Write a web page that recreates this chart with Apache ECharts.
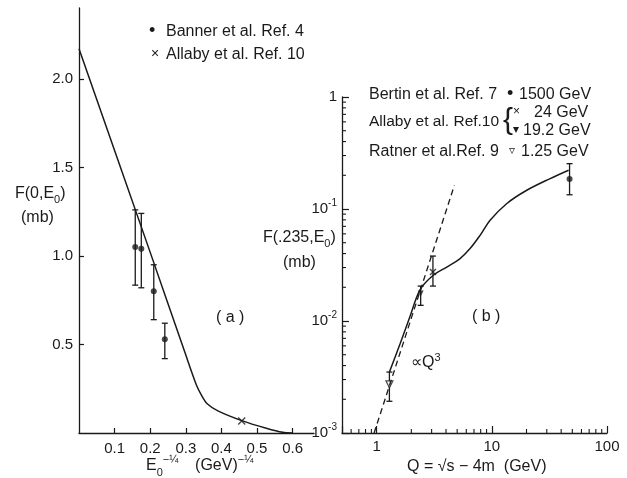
<!DOCTYPE html>
<html><head><meta charset="utf-8">
<script src="https://cdn.jsdelivr.net/npm/echarts@6/dist/echarts.min.js"></script>
<style>html,body{margin:0;padding:0;background:#fff}#c{width:627px;height:478px}</style>
</head><body><div id="c"></div>
<script>
// ---------- Panel (a) ----------
const aCurveX = [0, 0.2, 0.3, 0.33, 0.345, 0.36, 0.39, 0.457, 0.526, 0.572, 0.6];
const aCurveY = [2.17, 1.02, 0.44, 0.27, 0.21, 0.165, 0.125, 0.07, 0.027, 0.004, 0];
const bannerX  = [0.158, 0.175, 0.21, 0.241];
const bannerY  = [1.05, 1.04, 0.80, 0.53];
const bannerLo = [0.835, 0.82, 0.64, 0.42];
const bannerHi = [1.26, 1.24, 0.95, 0.62];
const allabyAX = [0.457];
const allabyAY = [0.068];
const aXTicks = [0.1, 0.2, 0.3, 0.4, 0.5, 0.6];
const aYTicks = [0.5, 1.0, 1.5, 2.0];

// ---------- Panel (b) ----------
const bCurveQ = [1.29, 1.6, 1.95, 2.38, 3.10, 4.06, 5.30, 6.47, 7.91, 9.66, 13.5, 20.1, 32.1, 46.4];
const bCurveF = [0.0035, 0.0063, 0.0110, 0.019, 0.0256, 0.0303, 0.0361, 0.0443, 0.0582, 0.0792, 0.112, 0.147, 0.187, 0.222];
const q3Q = [0.95, 4.73];
const q3F = [0.001, 0.163];
const ratnerQ = [1.29],  ratnerF = [0.00272], ratnerLo = [0.00192], ratnerHi = [0.0035];
const allaby19Q = [2.41], allaby19F = [0.0176], allaby19Lo = [0.0138], allaby19Hi = [0.0205];
const allaby24Q = [3.08], allaby24F = [0.0274], allaby24Lo = [0.0205], allaby24Hi = [0.038];
const bertinQ = [47.3], bertinF = [0.185], bertinLo = [0.134], bertinHi = [0.254];
const bXMinor = [0.6,0.7,0.8,0.9,2,3,4,5,6,7,8,9,20,30,40,50,60,70,80,90];
const bYMinor = [0.002,0.003,0.004,0.005,0.006,0.007,0.008,0.009,0.02,0.03,0.04,0.05,0.06,0.07,0.08,0.09,0.2,0.3,0.4,0.5,0.6,0.7,0.8,0.9];

const INK = '#1a1a1a';
const FONT = 'Liberation Sans';
const zip = (a, b) => a.map((v, i) => [v, b[i]]);
const zip3 = (a, b, c) => a.map((v, i) => [v, b[i], c[i]]);

function errRender(params, api) {
  const x = api.value(0), lo = api.value(1), hi = api.value(2);
  const p1 = api.coord([x, lo]), p2 = api.coord([x, hi]);
  const w = 3, st = {stroke: INK, lineWidth: 1.3};
  return {type: 'group', children: [
    {type: 'line', shape: {x1: p1[0], y1: p1[1], x2: p2[0], y2: p2[1]}, style: st},
    {type: 'line', shape: {x1: p1[0]-w, y1: p1[1], x2: p1[0]+w, y2: p1[1]}, style: st},
    {type: 'line', shape: {x1: p2[0]-w, y1: p2[1], x2: p2[0]+w, y2: p2[1]}, style: st}
  ]};
}
function xMinorRender(params, api) {
  const p = api.coord([api.value(0), api.value(1)]);
  return {type: 'line', z2: 50, shape: {x1: p[0], y1: p[1], x2: p[0], y2: p[1]-4}, style: {stroke: INK, lineWidth: 1.1}};
}
function yMinorRender(params, api) {
  const p = api.coord([api.value(0), api.value(1)]);
  return {type: 'line', z2: 50, shape: {x1: p[0], y1: p[1], x2: p[0]+4, y2: p[1]}, style: {stroke: INK, lineWidth: 1.1}};
}
const crossPath = 'path://M0,0L10,10M10,0L0,10';
const supRich = {
  n: {fontSize: 15, fontFamily: FONT, color: INK, lineHeight: 22},
  s: {fontSize: 10, fontFamily: FONT, color: INK, lineHeight: 12, verticalAlign: 'top'}
};
const yLogLabels = {1: '{n|1}', 0.1: '{n|10}{s|-1}', 0.01: '{n|10}{s|-2}', 0.001: '{n|10}{s|-3}'};

const axLine = {show: true, lineStyle: {color: INK, width: 1.3}};
const labelBase = {fontSize: 15, fontFamily: FONT, color: INK};

const option = {
  backgroundColor: '#fff',
  animation: false,
  grid: [
    {left: 79, top: 8, width: 235, height: 425},
    {left: 342, top: 97, width: 265, height: 336}
  ],
  xAxis: [
    {gridIndex: 0, type: 'value', min: 0, max: 0.66, interval: 0.1, position: 'bottom',
     axisLine: axLine, splitLine: {show: false},
     axisTick: {inside: true, length: 5, customValues: aXTicks, lineStyle: {color: INK, width: 1.2}},
     axisLabel: Object.assign({margin: 8, customValues: aXTicks, formatter: v => v.toFixed(1)}, labelBase)},
    {gridIndex: 1, type: 'log', logBase: 10, min: 0.5, max: 100, position: 'bottom',
     axisLine: axLine, splitLine: {show: false}, minorTick: {show: false},
     axisTick: {inside: true, length: 7, lineStyle: {color: INK, width: 1.2}},
     axisLabel: Object.assign({margin: 6, formatter: v => (Math.abs(v-1)<1e-6 ? '1' : Math.abs(v-10)<1e-6 ? '10' : Math.abs(v-100)<1e-6 ? '100' : '')}, labelBase)}
  ],
  yAxis: [
    {gridIndex: 0, type: 'value', min: 0, max: 2.4, interval: 0.5,
     axisLine: axLine, splitLine: {show: false},
     axisTick: {inside: true, length: 5, customValues: aYTicks, lineStyle: {color: INK, width: 1.2}},
     axisLabel: Object.assign({margin: 6, customValues: aYTicks, formatter: v => v.toFixed(1)}, labelBase)},
    {gridIndex: 1, type: 'log', logBase: 10, min: 0.001, max: 1,
     axisLine: axLine, splitLine: {show: false}, minorTick: {show: false},
     axisTick: {inside: true, length: 7, lineStyle: {color: INK, width: 1.2}},
     axisLabel: {margin: 5, formatter: v => {
        for (const k in yLogLabels) { if (Math.abs(Math.log10(v) - Math.log10(+k)) < 1e-6) return yLogLabels[k]; }
        return '';
      }, rich: supRich}}
  ],
  series: [
    // panel a
    {type: 'line', xAxisIndex: 0, yAxisIndex: 0, data: zip(aCurveX, aCurveY), smooth: 0.25, showSymbol: false,
     lineStyle: {color: INK, width: 1.5}},
    {type: 'custom', xAxisIndex: 0, yAxisIndex: 0, data: zip3(bannerX, bannerLo, bannerHi), renderItem: errRender, clip: false},
    {type: 'scatter', xAxisIndex: 0, yAxisIndex: 0, data: zip(bannerX, bannerY), symbol: 'circle', symbolSize: 6,
     itemStyle: {color: INK}},
    {type: 'scatter', xAxisIndex: 0, yAxisIndex: 0, data: zip(allabyAX, allabyAY), symbol: crossPath, symbolSize: 7,
     itemStyle: {color: 'none', borderColor: INK, borderWidth: 1.4}},
    // panel b
    {type: 'line', xAxisIndex: 1, yAxisIndex: 1, data: zip(bCurveQ, bCurveF), smooth: 0.35, showSymbol: false,
     lineStyle: {color: INK, width: 1.5}},
    {type: 'line', xAxisIndex: 1, yAxisIndex: 1, data: zip(q3Q, q3F), showSymbol: false,
     lineStyle: {color: INK, width: 1.3, type: [6, 4]}},
    {type: 'custom', xAxisIndex: 1, yAxisIndex: 1,
     data: [].concat(zip3(ratnerQ, ratnerLo, ratnerHi), zip3(allaby19Q, allaby19Lo, allaby19Hi),
                     zip3(allaby24Q, allaby24Lo, allaby24Hi), zip3(bertinQ, bertinLo, bertinHi)),
     renderItem: errRender, clip: false},
    {type: 'scatter', xAxisIndex: 1, yAxisIndex: 1, data: zip(ratnerQ, ratnerF), symbol: 'triangle', symbolRotate: 180,
     symbolSize: 7, itemStyle: {color: '#fff', borderColor: INK, borderWidth: 1.2}},
    {type: 'scatter', xAxisIndex: 1, yAxisIndex: 1, data: zip(allaby19Q, allaby19F), symbol: 'triangle', symbolRotate: 180,
     symbolSize: 6, itemStyle: {color: INK}},
    {type: 'scatter', xAxisIndex: 1, yAxisIndex: 1, data: zip(allaby24Q, allaby24F), symbol: crossPath, symbolSize: 6,
     itemStyle: {color: 'none', borderColor: INK, borderWidth: 1.4}},
    {type: 'scatter', xAxisIndex: 1, yAxisIndex: 1, data: zip(bertinQ, bertinF), symbol: 'circle', symbolSize: 6,
     itemStyle: {color: INK}},
    {type: 'custom', z: 10, xAxisIndex: 1, yAxisIndex: 1, data: bXMinor.map(v => [v, 0.001]), renderItem: xMinorRender, clip: false},
    {type: 'custom', z: 10, xAxisIndex: 1, yAxisIndex: 1, data: bYMinor.map(v => [0.5, v]), renderItem: yMinorRender, clip: false}
  ],
  graphic: [
    // panel a legend
    {type: 'text', left: 149, top: 22, style: {text: '•', font: '18px ' + FONT, fill: INK}},
    {type: 'text', left: 166, top: 24, style: {text: 'Banner et al. Ref. 4', font: '16px ' + FONT, fill: INK}},
    {type: 'text', left: 151, top: 47, style: {text: '×', font: '14px ' + FONT, fill: INK}},
    {type: 'text', left: 166, top: 47, style: {text: 'Allaby et al. Ref. 10', font: '16px ' + FONT, fill: INK}},
    // panel a axis titles
    {type: 'text', left: 15, top: 186, style: {text: '{n|F(0,E}{b|0}{n|)}', rich: {
      n: {fontSize: 16, fontFamily: FONT, fill: INK, lineHeight: 22},
      b: {fontSize: 11, fontFamily: FONT, fill: INK, lineHeight: 12, verticalAlign: 'bottom'}}}},
    {type: 'text', left: 21, top: 210, style: {text: '(mb)', font: '16px ' + FONT, fill: INK}},
    {type: 'text', left: 146, top: 454, style: {text: '{n|E}{b|0}{s|−¼}{g|      }{n|(GeV)}{s|−¼}', rich: {
      n: {fontSize: 16, fontFamily: FONT, fill: INK, lineHeight: 24},
      g: {fontSize: 10, fontFamily: FONT, fill: INK, lineHeight: 24},
      b: {fontSize: 11, fontFamily: FONT, fill: INK, lineHeight: 12, verticalAlign: 'bottom'},
      s: {fontSize: 11, fontFamily: FONT, fill: INK, lineHeight: 12, verticalAlign: 'top'}}}},
    {type: 'text', left: 216, top: 310, style: {text: '( a )', font: '16px ' + FONT, fill: INK}},
    // panel b legend
    {type: 'text', left: 369, top: 87, style: {text: 'Bertin et al. Ref. 7', font: '16px ' + FONT, fill: INK}},
    {type: 'text', left: 507, top: 85, style: {text: '•', font: '18px ' + FONT, fill: INK}},
    {type: 'text', left: 519, top: 87, style: {text: '1500 GeV', font: '16px ' + FONT, fill: INK}},
    {type: 'text', left: 369, top: 114, style: {text: 'Allaby et al. Ref.10', font: '15.5px ' + FONT, fill: INK}},
    {type: 'text', left: 503, top: 106, style: {text: '{', font: '30px ' + FONT, fill: INK}},
    {type: 'text', left: 513, top: 106, style: {text: '×', font: '12px ' + FONT, fill: INK}},
    {type: 'text', left: 534, top: 105, style: {text: '24 GeV', font: '16px ' + FONT, fill: INK}},
    {type: 'text', left: 513, top: 124, style: {text: '▾', font: '12px DejaVu Sans', fill: INK}},
    {type: 'text', left: 523, top: 123, style: {text: '19.2 GeV', font: '16px ' + FONT, fill: INK}},
    {type: 'text', left: 369, top: 144, style: {text: 'Ratner et al.Ref. 9', font: '16px ' + FONT, fill: INK}},
    {type: 'text', left: 509, top: 145, style: {text: '▿', font: '12px DejaVu Sans', fill: INK}},
    {type: 'text', left: 521, top: 144, style: {text: '1.25 GeV', font: '16px ' + FONT, fill: INK}},
    // panel b axis titles
    {type: 'text', left: 263, top: 230, style: {text: '{n|F(.235,E}{b|0}{n|)}', rich: {
      n: {fontSize: 16, fontFamily: FONT, fill: INK, lineHeight: 22},
      b: {fontSize: 11, fontFamily: FONT, fill: INK, lineHeight: 12, verticalAlign: 'bottom'}}}},
    {type: 'text', left: 283, top: 255, style: {text: '(mb)', font: '16px ' + FONT, fill: INK}},
    {type: 'text', left: 472, top: 309, style: {text: '( b )', font: '16px ' + FONT, fill: INK}},
    {type: 'text', left: 411, top: 352, style: {text: '{n|∝Q}{s|3}', rich: {
      n: {fontSize: 16, fontFamily: FONT, fill: INK, lineHeight: 22},
      s: {fontSize: 11, fontFamily: FONT, fill: INK, lineHeight: 12, verticalAlign: 'top'}}}},
    {type: 'text', left: 407, top: 459, style: {text: 'Q = √s − 4m  (GeV)', font: '16px ' + FONT, fill: INK}}
  ]
};
const chart = echarts.init(document.getElementById('c'), null, {renderer: 'canvas'});
chart.setOption(option);
</script>
</body></html>
